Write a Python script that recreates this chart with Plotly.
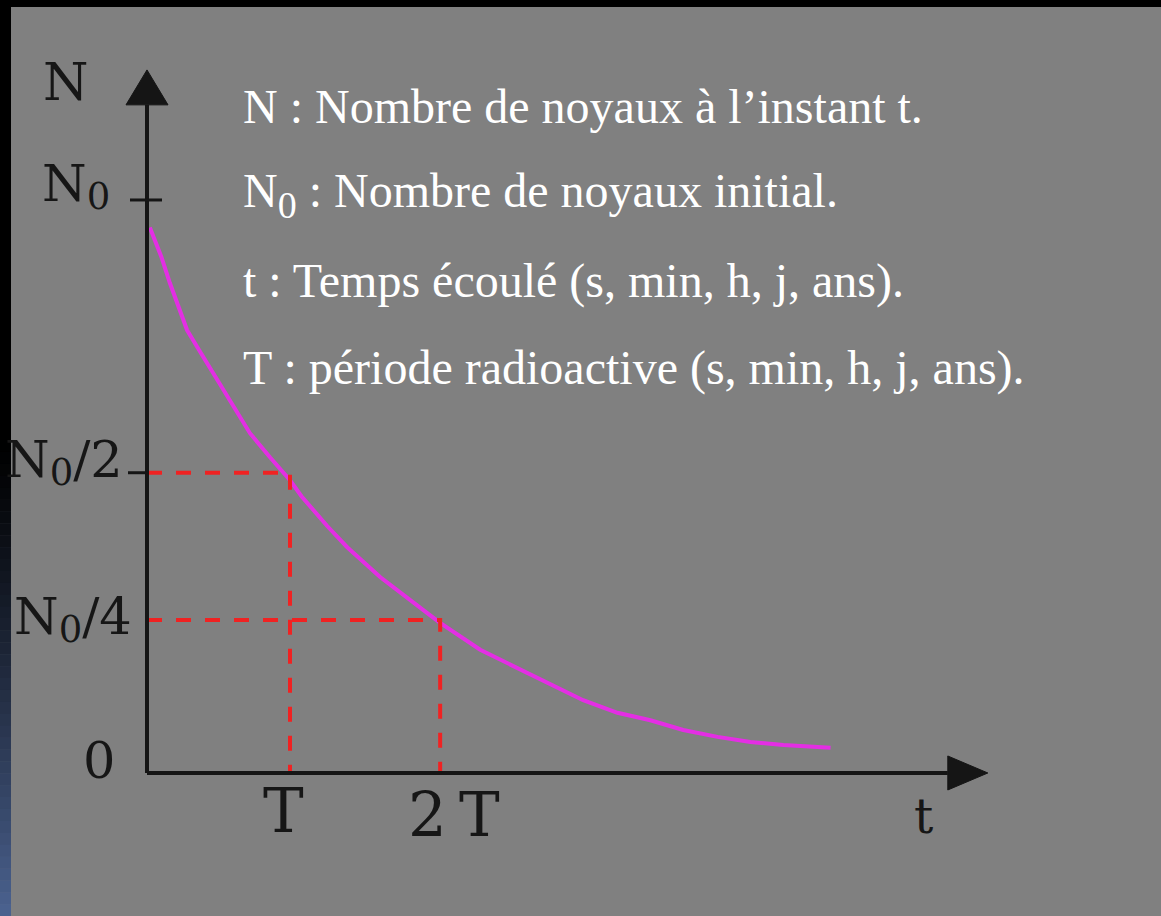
import plotly.graph_objects as go

# ---------------- data ----------------
# time in units of the half-life T, N in units of N0
t_curve = [0.02, 0.10, 0.16, 0.23, 0.28, 0.35, 0.42, 0.51, 0.58, 0.72, 0.86, 1.00,
           1.08, 1.16, 1.26, 1.40, 1.63, 1.96, 2.05, 2.33, 2.82, 3.05, 3.29, 3.52,
           3.75, 3.99, 4.22, 4.45, 4.78]
n_curve = [0.952, 0.901, 0.855, 0.808, 0.773, 0.744, 0.715, 0.681, 0.651, 0.593, 0.551, 0.511,
           0.483, 0.459, 0.431, 0.394, 0.342, 0.279, 0.262, 0.215, 0.154, 0.127, 0.105, 0.092,
           0.075, 0.063, 0.054, 0.049, 0.044]

x_tick_vals = [1.0, 2.05]                 # T, 2T
x_tick_text = ["T", "2\u2009T"]
y_tick_vals = [1.0, 0.524, 0.267, 0.0]     # N0, N0/2, N0/4, 0
SUB_AX = "<span style='font-size:37px;baseline-shift:-8px'>0</span>"
y_tick_text = ["N" + SUB_AX, "N" + SUB_AX + "/2", "N" + SUB_AX + "/4", "0"]

SUB_TX = "<span style='font-size:38px;baseline-shift:-11px'>0</span>"
legend_lines = [
    "N : Nombre de noyaux à l\u2019instant t.",
    "N" + SUB_TX + " : Nombre de noyaux initial.",
    "t : Temps écoulé (s, min, h, j, ans).",
    "T : période radioactive (s, min, h, j, ans).",
]

# ---------------- layout constants ----------------
W, H = 1161, 916
X_RANGE = [-1.028, 7.091]
Y_RANGE = [-0.2496, 1.349]
x_axis_end, x_arrow_tip = 5.60, 5.88
y_axis_end, y_arrow_tip = 1.166, 1.227
AXIS_COL = "#151515"
GRAY = "#808080"
DASH_COL = "#f02222"
CURVE_COL = "#e42ee4"
LABEL_FONT = "DejaVu Serif"


def xp(v, shift_px=0):
    """data x -> paper x, plus a pixel offset"""
    return (v - X_RANGE[0]) / (X_RANGE[1] - X_RANGE[0]) + shift_px / W


def yp(v, shift_px=0):
    """data y -> paper y, plus a pixel offset (positive = up)"""
    return (v - Y_RANGE[0]) / (Y_RANGE[1] - Y_RANGE[0]) + shift_px / H


fig = go.Figure()

# decay curve
fig.add_trace(go.Scatter(x=t_curve, y=n_curve, mode="lines",
                         line=dict(color=CURVE_COL, width=4), hoverinfo="skip"))

# dashed guide lines (N0/2 at T, N0/4 at 2T)
for tv, nv in zip(x_tick_vals, y_tick_vals[1:3]):
    fig.add_trace(go.Scatter(x=[0, tv, tv], y=[nv, nv, 0], mode="lines",
                             line=dict(color=DASH_COL, width=4, dash="15px,14px"),
                             hoverinfo="skip"))

shapes = []
# background strips (top black band and left gradient band)
shapes.append(dict(type="rect", xref="paper", yref="paper", x0=0, x1=1,
                   y0=1 - 7 / H, y1=1, fillcolor="black", line_width=0, layer="above"))
strip_w = 11 / W
grad_start = 440
shapes.append(dict(type="rect", xref="paper", yref="paper", x0=0, x1=strip_w,
                   y0=1 - grad_start / H, y1=1, fillcolor="black", line_width=0, layer="above"))
n_steps = 40
end_rgb = (75, 98, 144)
for i in range(n_steps):
    y_top = grad_start + (H - grad_start) * i / n_steps
    y_bot = grad_start + (H - grad_start) * (i + 1) / n_steps
    f = ((i + 0.5) / n_steps) ** 1.2
    col = "rgb(%d,%d,%d)" % tuple(round(c * f) for c in end_rgb)
    shapes.append(dict(type="rect", xref="paper", yref="paper", x0=0, x1=strip_w,
                       y0=1 - y_bot / H - 0.0005, y1=1 - y_top / H,
                       fillcolor=col, line_width=0, layer="above"))

# axes lines
shapes.append(dict(type="line", x0=0, y0=0, x1=x_axis_end, y1=0,
                   line=dict(color=AXIS_COL, width=4)))
shapes.append(dict(type="line", x0=0, y0=0, x1=0, y1=y_axis_end,
                   line=dict(color=AXIS_COL, width=4)))
# arrow heads
dx_t = (X_RANGE[1] - X_RANGE[0]) / W
dy_n = (Y_RANGE[1] - Y_RANGE[0]) / H
hw_y = 21 * dx_t
shapes.append(dict(type="path",
                   path="M %f,%f L %f,%f L %f,%f Z" % (-hw_y, y_axis_end, hw_y, y_axis_end, 0, y_arrow_tip),
                   fillcolor=AXIS_COL, line=dict(color=AXIS_COL, width=1)))
hw_x = 17 * dy_n
shapes.append(dict(type="path",
                   path="M %f,%f L %f,%f L %f,%f Z" % (x_axis_end, -hw_x, x_axis_end, hw_x, x_arrow_tip, 0),
                   fillcolor=AXIS_COL, line=dict(color=AXIS_COL, width=1)))
# ticks on the N axis
shapes.append(dict(type="line", x0=-17 * dx_t, x1=15 * dx_t, y0=y_tick_vals[0], y1=y_tick_vals[0],
                   line=dict(color=AXIS_COL, width=3)))
shapes.append(dict(type="line", x0=-19 * dx_t, x1=0, y0=y_tick_vals[1], y1=y_tick_vals[1],
                   line=dict(color=AXIS_COL, width=3)))

annotations = []
lab_col = "#161616"
# axis names
annotations.append(dict(xref="paper", yref="paper", x=xp(0, -56), y=yp(y_arrow_tip, -12),
                        xanchor="right", yanchor="middle",
                        text="N", showarrow=False, font=dict(family=LABEL_FONT, size=52, color=lab_col)))
annotations.append(dict(xref="paper", yref="paper", x=xp(x_axis_end, -24), y=yp(0, -43),
                        xanchor="center", yanchor="middle",
                        text="t", showarrow=False, font=dict(family=LABEL_FONT, size=48, color=lab_col)))
# y tick labels: (pixel offset of right edge, pixel offset of centre)
y_lab_offsets = [(-35, 14), (-22, 11), (-13, 1), (-30, 12)]
for v, txt, (xs, ys) in zip(y_tick_vals, y_tick_text, y_lab_offsets):
    annotations.append(dict(xref="paper", yref="paper", x=xp(0, xs), y=yp(v, ys),
                            xanchor="right", yanchor="middle",
                            text=txt, showarrow=False,
                            font=dict(family=LABEL_FONT, size=51, color=lab_col)))
# x tick labels
x_lab_offsets = [(-6, -38), (14, -42)]
for v, txt, (xs, ys) in zip(x_tick_vals, x_tick_text, x_lab_offsets):
    annotations.append(dict(xref="paper", yref="paper", x=xp(v, xs), y=yp(0, ys),
                            xanchor="center", yanchor="middle",
                            text=txt, showarrow=False,
                            font=dict(family=LABEL_FONT, size=61, color=lab_col)))

# explanatory text block (white Times-like)
line_centres = [107, 195, 281, 368]
for txt, yc in zip(legend_lines, line_centres):
    annotations.append(dict(xref="paper", yref="paper", x=241 / W, y=1 - yc / H,
                            xanchor="left", yanchor="middle", text=txt, showarrow=False,
                            font=dict(family="Liberation Serif", size=48, color="white")))

fig.update_layout(
    width=W, height=H, autosize=False,
    margin=dict(l=0, r=0, t=0, b=0, pad=0),
    paper_bgcolor=GRAY, plot_bgcolor=GRAY,
    showlegend=False,
    xaxis=dict(range=X_RANGE, visible=False, fixedrange=True),
    yaxis=dict(range=Y_RANGE, visible=False, fixedrange=True),
    shapes=shapes, annotations=annotations,
)

fig.write_html("out.html", config={"displayModeBar": False},
               post_script="document.body.style.margin='0';document.body.style.overflow='hidden';"
                           "document.body.style.background='#808080';")
